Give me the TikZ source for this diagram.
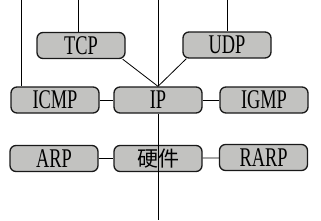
\documentclass[tikz,border=0pt]{standalone}
\usepackage{fontspec}
\newfontfamily\labelfont[FakeStretch=0.68]{Liberation Serif}
\newfontfamily\cjkfont{Noto Sans CJK SC}
\definecolor{boxgray}{RGB}{194,194,192}

\begin{document}
\begin{tikzpicture}[
  x=1pt,
  y=-1pt,
  proto/.style={draw=black!90, fill=boxgray, line width=1.3pt, rounded corners=6pt,
    minimum width=88pt, minimum height=26pt, inner sep=0pt,
    font=\labelfont\fontsize{27}{27}\selectfont},
  hwbox/.style={proto, font=\cjkfont\fontsize{21}{21}\selectfont},
  link/.style={draw=black, line width=0.8pt}
]
  \useasboundingbox (0,0) rectangle (321,220);

  % upper layer
  \node[proto] (tcp) at (81,45.5) {TCP};
  \node[proto] (udp) at (227,45) {UDP};

  % network layer
  \node[proto] (icmp) at (55,100) {ICMP};
  \node[proto] (ip) at (158,100) {IP};
  \node[proto] (igmp) at (264,100) {IGMP};

  % link layer
  \node[proto] (arp) at (54,158.5) {ARP};
  \node[hwbox] (hw) at (158,158.5) {硬件};
  \node[proto] (rarp) at (263.5,157.5) {RARP};

  \coordinate (tcptop) at (78,0);
  \coordinate (udptop) at (227,0);
  \coordinate (icmptop) at (21,0);
  \coordinate (iptop) at (158,0);
  \coordinate (hwbottom) at (158,220);

  \draw[link] (tcptop) -- (tcptop |- tcp.north);
  \draw[link] (udptop) -- (udptop |- udp.north);
  \draw[link] (icmptop) -- (icmptop |- icmp.north);
  \draw[link] (iptop) -- (ip.north);
  \draw[link] ([xshift=-3pt]tcp.south east) -- (ip.north);
  \draw[link] ([xshift=4pt]udp.south west) -- (ip.north);

  \draw[link] (icmp) -- (ip);
  \draw[link] (ip) -- (igmp);
  \draw[link] (arp) -- (hw);
  \draw[link] (hw) -- (rarp);
  \draw[link] (ip.south) -- (hwbottom);
\end{tikzpicture}
\end{document}
